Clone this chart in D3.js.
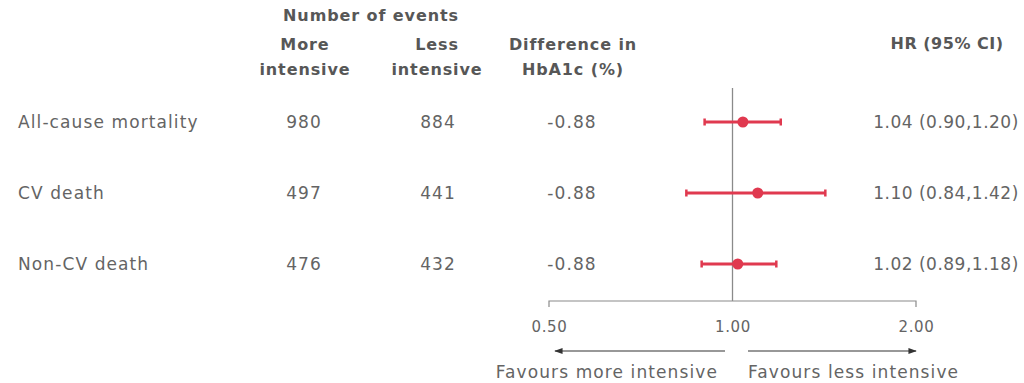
<!DOCTYPE html>
<html>
<head>
<meta charset="utf-8">
<script src="https://cdn.jsdelivr.net/npm/d3@7"></script>
<style>
  html, body { margin: 0; padding: 0; background: #fff; }
  svg { display: block; font-family: "DejaVu Sans", "Noto Sans", sans-serif; }
</style>
</head>
<body>
<svg id="chart" width="1024" height="383"></svg>
<script>
// Outcomes and event counts
const outcomes = ["All-cause mortality", "CV death", "Non-CV death"];
const eventsMore = [980, 497, 476];
const eventsLess = [884, 441, 432];
const hba1cDiff = ["-0.88", "-0.88", "-0.88"];
// Hazard ratios with 95% confidence limits
const hr = [1.04, 1.10, 1.02];
const ciLow = [0.90, 0.84, 0.89];
const ciHigh = [1.20, 1.42, 1.18];
const hrLabels = ["1.04 (0.90,1.20)", "1.10 (0.84,1.42)", "1.02 (0.89,1.18)"];
const axisTicks = [0.5, 1, 2];
const tickLabels = ["0.50", "1.00", "2.00"];

const svg = d3.select("#chart");
const red = "#e0394f";
const textCol = "#646464";
const lineCol = "#8a8a8a";

// Log scale for hazard ratios
const x = d3.scaleLog().domain([0.5, 2]).range([549, 916]);
const y = d3.scalePoint().domain(outcomes).range([122, 264]);
const axisY = 301;

// Column headers
const hdr = svg.append("g")
  .attr("font-weight", "bold").attr("font-size", 16).attr("letter-spacing", 0.9)
  .attr("fill", "#575757").attr("text-anchor", "middle");
hdr.append("text").attr("x", 371).attr("y", 21).text("Number of events");
[["More", "intensive", 305], ["Less", "intensive", 437], ["Difference in", "HbA1c (%)", 573]]
  .forEach(([a, b, cx]) => {
    hdr.append("text").attr("x", cx).attr("y", 50).text(a);
    hdr.append("text").attr("x", cx).attr("y", 75).text(b);
  });
hdr.append("text").attr("x", 947).attr("y", 49).attr("letter-spacing", 0.5).text("HR (95% CI)");

// Table rows
const rows = svg.append("g").attr("font-size", 17).attr("letter-spacing", 1.1).attr("fill", textCol);
outcomes.forEach((o, i) => {
  const cy = y(o);
  rows.append("text").attr("x", 18).attr("y", cy).attr("dy", "0.35em").text(o);
  rows.append("text").attr("x", 304).attr("y", cy).attr("dy", "0.35em").attr("text-anchor", "middle").text(eventsMore[i]);
  rows.append("text").attr("x", 438).attr("y", cy).attr("dy", "0.35em").attr("text-anchor", "middle").text(eventsLess[i]);
  rows.append("text").attr("x", 572).attr("y", cy).attr("dy", "0.35em").attr("text-anchor", "middle").text(hba1cDiff[i]);
  rows.append("text").attr("x", 946).attr("y", cy).attr("dy", "0.35em").attr("text-anchor", "middle")
    .attr("letter-spacing", 0.5).text(hrLabels[i]);
});

// Line of no effect
svg.append("line")
  .attr("x1", x(1)).attr("x2", x(1))
  .attr("y1", 88).attr("y2", axisY)
  .attr("stroke", lineCol).attr("stroke-width", 1.3);

// Bottom axis
const axis = d3.axisBottom(x).tickValues(axisTicks)
  .tickFormat((d, i) => tickLabels[i]).tickSize(0).tickPadding(20);
const ag = svg.append("g").attr("transform", `translate(0,${axisY})`).call(axis);
ag.select(".domain").remove();
ag.selectAll("text").attr("font-size", 15).attr("fill", textCol)
  .attr("font-family", "DejaVu Sans, sans-serif").attr("letter-spacing", 0.6);
// Axis bracket: baseline with end ticks
svg.append("path")
  .attr("d", `M${x(0.5)},${axisY + 6}V${axisY}H${x(2)}V${axisY + 6}`)
  .attr("fill", "none").attr("stroke", lineCol).attr("stroke-width", 1.2);

// Confidence intervals and point estimates
const fp = svg.append("g");
outcomes.forEach((o, i) => {
  const cy = y(o);
  fp.append("line").attr("x1", x(ciLow[i])).attr("x2", x(ciHigh[i]))
    .attr("y1", cy).attr("y2", cy).attr("stroke", red).attr("stroke-width", 3);
  [ciLow[i], ciHigh[i]].forEach(v => {
    fp.append("line").attr("x1", x(v)).attr("x2", x(v))
      .attr("y1", cy - 3.5).attr("y2", cy + 3.5)
      .attr("stroke", red).attr("stroke-width", 2.5);
  });
  fp.append("circle").attr("cx", x(hr[i])).attr("cy", cy).attr("r", 5.5).attr("fill", red);
});

// Direction arrows
const defs = svg.append("defs");
defs.append("marker").attr("id", "arrow").attr("viewBox", "0 0 10 10")
  .attr("refX", 9).attr("refY", 5).attr("markerWidth", 7).attr("markerHeight", 7)
  .attr("orient", "auto-start-reverse")
  .append("path").attr("d", "M0,1.5L10,5L0,8.5Z").attr("fill", "#333");
const arrowY = 351;
svg.append("line").attr("x1", 725).attr("x2", x(0.5) + 6).attr("y1", arrowY).attr("y2", arrowY)
  .attr("stroke", "#333").attr("stroke-width", 1.2).attr("marker-end", "url(#arrow)");
svg.append("line").attr("x1", 748).attr("x2", x(2)).attr("y1", arrowY).attr("y2", arrowY)
  .attr("stroke", "#333").attr("stroke-width", 1.2).attr("marker-end", "url(#arrow)");

const fav = svg.append("g").attr("font-size", 17).attr("letter-spacing", 1.1).attr("fill", textCol);
fav.append("text").attr("x", 718).attr("y", 378).attr("text-anchor", "end").text("Favours more intensive");
fav.append("text").attr("x", 748).attr("y", 378).text("Favours less intensive");
</script>
</body>
</html>
